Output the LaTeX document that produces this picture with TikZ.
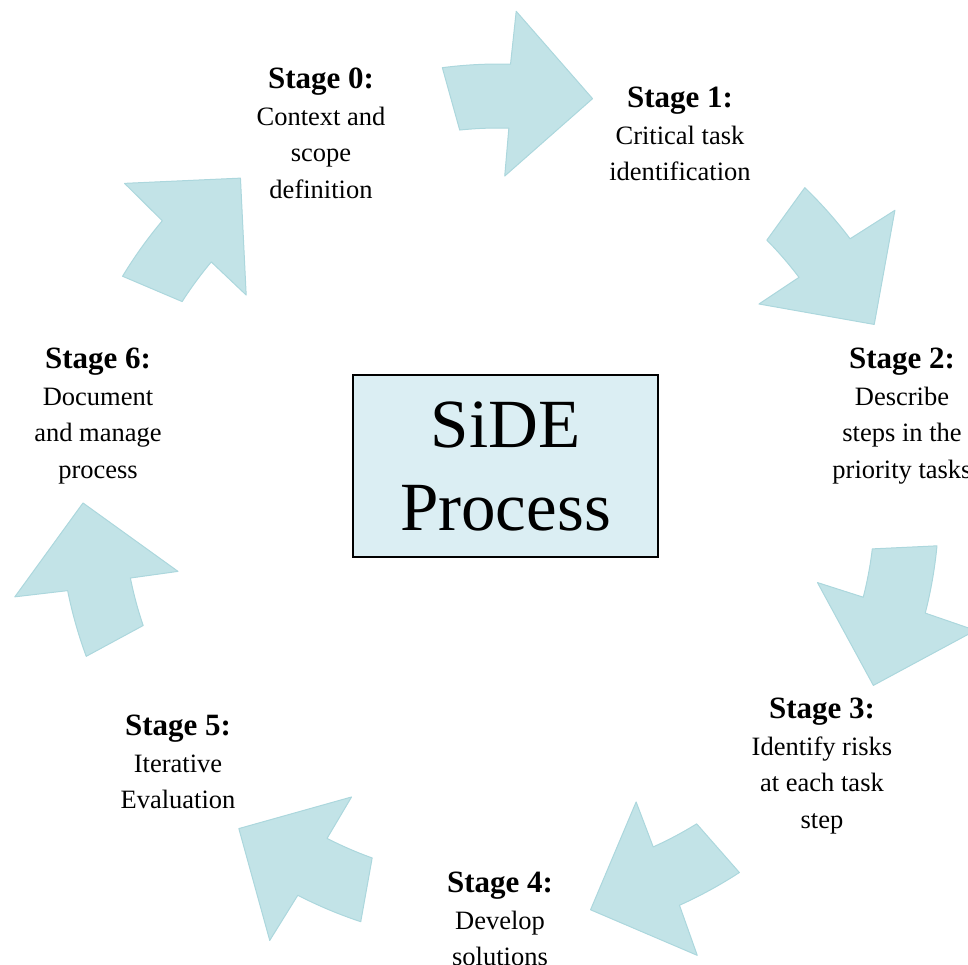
\documentclass[tikz,border=0pt]{standalone}
\usepackage{fontspec}
\setmainfont{Liberation Serif}
\usetikzlibrary{calc}
\definecolor{arrowfill}{RGB}{194,227,231}
\definecolor{arrowline}{RGB}{172,215,221}
\definecolor{boxfill}{RGB}{219,238,243}
\begin{document}
\begin{tikzpicture}[x=1pt,y=1pt,
  cyclearrow/.style={fill=arrowfill,draw=arrowline,line width=1pt,line join=round},
  stagetext/.style={anchor=north,align=center,inner sep=0pt,font=\fontsize{26.5}{36.5}\selectfont},
  centerbox/.style={draw=black,fill=boxfill,line width=1.8pt,minimum width=305pt,minimum height=182pt,align=center,inner sep=0pt,font=\fontsize{69}{83}\selectfont}]
\useasboundingbox (0,0) rectangle (968,964);
\coordinate (C) at (499,460);
\foreach \k in {0,...,6}{
  \pgfmathsetmacro{\a}{77-51.4286*\k}
  \path[cyclearrow] ([shift={(\a+20.4:440)}]C) arc[start angle=\a+20.4, end angle=\a+11.5, radius=440]
    -- ([shift={(\a+11:493)}]C) -- ([shift={(\a:416)}]C) -- ([shift={(\a+12:328)}]C)
    -- ([shift={(\a+11.5:376)}]C) arc[start angle=\a+11.5, end angle=\a+19, radius=376] -- cycle;
}
\newcommand{\sthead}[1]{{\fontsize{31}{36.5}\selectfont\bfseries #1}}
\node[stagetext] (s0) at (321,896) {\sthead{Stage 0:}\\Context and\\scope\\definition};
\node[stagetext] (s1) at (680,877) {\sthead{Stage 1:}\\Critical task\\identification};
\node[stagetext] (s2) at (902,616) {\sthead{Stage 2:}\\Describe\\steps in the\\priority tasks};
\node[stagetext] (s3) at (822,266) {\sthead{Stage 3:}\\Identify risks\\at each task\\step};
\node[stagetext] (s4) at (500,92) {\sthead{Stage 4:}\\Develop\\solutions};
\node[stagetext] (s5) at (178,249) {\sthead{Stage 5:}\\Iterative\\Evaluation};
\node[stagetext] (s6) at (98,616) {\sthead{Stage 6:}\\Document\\and manage\\process};
\node[centerbox] (side) at (505.5,498) {SiDE\\Process};
\end{tikzpicture}
\end{document}
